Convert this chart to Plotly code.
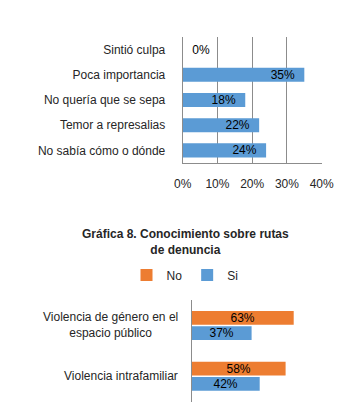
import plotly.graph_objects as go

# Top chart data
reasons = ["Sintió culpa", "Poca importancia", "No quería que se sepa",
           "Temor a represalias", "No sabía cómo o dónde"]
reason_vals = [0.0, 0.35, 0.18, 0.22, 0.24]
top_ticks = [0, 0.1, 0.2, 0.3, 0.4]
top_ticktext = ["0%", "10%", "20%", "30%", "40%"]

# Bottom chart data
title2 = "Gráfica 8. Conocimiento sobre rutas<br>de denuncia"
violence_types = ["Violencia de género en el<br>espacio público", "Violencia intrafamiliar"]
no_vals = [0.63, 0.58]
si_vals = [0.37, 0.42]

BLUE = "#5B9BD5"
ORANGE = "#ED7D31"
GRID = "#8C8C8C"
TXT = "#262626"
FONT = "Liberation Sans, Arial, sans-serif"

W, H = 359, 413

def px_x(a, b):
    return [a / W, b / W]

def px_y(top, bottom):
    return [1 - bottom / H, 1 - top / H]

fig = go.Figure()

fig.add_trace(go.Bar(
    y=reasons, x=reason_vals, orientation="h", marker_color=BLUE,
    width=0.56, showlegend=False,
    texttemplate="\u00a0\u00a0%{x:.0%}\u00a0\u00a0",
    textposition=["outside" if v == 0 else "inside" for v in reason_vals],
    insidetextanchor="end", constraintext="none",
    textfont=dict(color="#000000", size=12, family=FONT),
    cliponaxis=False,
    xaxis="x", yaxis="y", hoverinfo="skip",
))

fig.add_trace(go.Bar(
    y=violence_types, x=no_vals, orientation="h", name="No",
    marker_color=ORANGE, texttemplate="%{x:.0%}", textposition="inside",
    insidetextanchor="middle", constraintext="none",
    textfont=dict(color="#000000", size=12, family=FONT),
    xaxis="x2", yaxis="y2", hoverinfo="skip",
))
fig.add_trace(go.Bar(
    y=violence_types, x=si_vals, orientation="h", name="Si",
    marker_color=BLUE, texttemplate="%{x:.0%}", textposition="inside",
    insidetextanchor="middle", constraintext="none",
    textfont=dict(color="#000000", size=12, family=FONT),
    xaxis="x2", yaxis="y2", hoverinfo="skip",
))

annotations = [dict(
    text="<b>" + title2.replace("<br>", "</b><br><b>") + "</b>",
    xref="paper", yref="paper", x=185.7 / W, y=1 - 242 / H,
    xanchor="center", yanchor="middle", showarrow=False, align="center",
    font=dict(size=12, family=FONT, color=TXT),
)]
for cat in violence_types:
    annotations.append(dict(
        text=cat, xref="paper", yref="y2", x=180 / W, y=cat,
        xanchor="right", yanchor="middle", align="center", showarrow=False,
        font=dict(size=12, family=FONT, color=TXT),
    ))

fig.update_layout(
    template="none",
    width=W, height=H,
    margin=dict(l=0, r=0, t=0, b=0, pad=0, autoexpand=False),
    paper_bgcolor="white", plot_bgcolor="white",
    font=dict(family=FONT, size=12, color=TXT),
    barmode="group", bargap=0.4, bargroupgap=0.1,
    uniformtext=dict(minsize=12, mode="show"),
    xaxis=dict(domain=px_x(182.7, 321.7), range=[0, 0.4], tickvals=top_ticks,
               ticktext=top_ticktext, showgrid=True, gridcolor=GRID, gridwidth=1,
               showline=True, linecolor=GRID, zeroline=False, anchor="y",
               ticks="", ticklabelstandoff=10, automargin=False,
               tickfont=dict(size=12, color=TXT, family=FONT), fixedrange=True),
    yaxis=dict(domain=px_y(37, 163), autorange="reversed", anchor="x",
               showline=True, linecolor=GRID, showgrid=False, zeroline=False,
               ticks="", ticklabelstandoff=14, automargin=False,
               tickfont=dict(size=12, color=TXT, family=FONT)),
    xaxis2=dict(domain=px_x(191.7, 191.7 + 0.70 * 161.9), range=[0, 0.70],
                visible=False, anchor="y2", automargin=False),
    yaxis2=dict(domain=px_y(300, 401.7), autorange="reversed", anchor="x2",
                showline=True, linecolor=GRID, showgrid=False, zeroline=False,
                showticklabels=False, ticks="", automargin=False),
    legend=dict(orientation="h", x=185 / W, y=1 - 275 / H, xanchor="center",
                yanchor="middle", font=dict(size=12, family=FONT, color=TXT),
                itemwidth=30, traceorder="normal", tracegroupgap=0,
                bgcolor="rgba(0,0,0,0)"),
    annotations=annotations,
)

fig.write_html("out.html", config={"displayModeBar": False},
               post_script="document.body.style.margin='0';")
